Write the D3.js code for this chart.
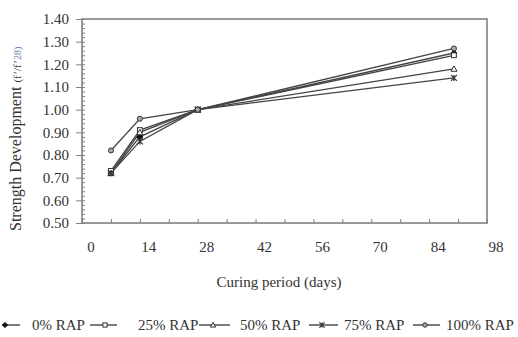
<!DOCTYPE html>
<html>
<head>
<meta charset="utf-8">
<script src="https://cdn.jsdelivr.net/npm/d3@7"></script>
<style>
  html, body { margin: 0; padding: 0; background: #fff; }
  svg text { font-family: "Liberation Serif", "Times New Roman", serif; fill: #333; }
</style>
</head>
<body>
<svg id="chart" width="518" height="337"></svg>
<script>
// Curing ages (days) and strength ratio f/f28 for each RAP content
const days = [7, 14, 28, 90];
const rap0   = [0.72, 0.88, 1.00, 1.25];
const rap25  = [0.73, 0.91, 1.00, 1.24];
const rap50  = [0.72, 0.90, 1.00, 1.18];
const rap75  = [0.72, 0.86, 1.00, 1.14];
const rap100 = [0.82, 0.96, 1.00, 1.27];
const seriesNames = ["0% RAP", "25% RAP", "50% RAP", "75% RAP", "100% RAP"];
const seriesValues = [rap0, rap25, rap50, rap75, rap100];
const markerKinds = ["diamond", "square", "triangle", "star", "circle"];
const xTickLabels = [0, 14, 28, 42, 56, 70, 84, 98];
const yTickLabels = [0.5, 0.6, 0.7, 0.8, 0.9, 1.0, 1.1, 1.2, 1.3, 1.4];

const svg = d3.select("#chart");
const plotLeft = 82, plotRight = 487, plotTop = 19, plotBottom = 223;

const x = d3.scaleLinear().domain([0, 98]).range([plotLeft, plotRight]);
const y = d3.scaleLinear().domain([0.5, 1.4]).range([plotBottom, plotTop]);

const axisColor = "#808080";
const fontSize = 15;

// plot frame
svg.append("rect")
  .attr("x", plotLeft).attr("y", plotTop)
  .attr("width", plotRight - plotLeft).attr("height", plotBottom - plotTop)
  .attr("fill", "none").attr("stroke", axisColor).attr("stroke-width", 1.6);

// y axis: outward major ticks with labels
const yAxis = svg.append("g")
  .attr("transform", `translate(${plotLeft},0)`)
  .call(d3.axisLeft(y).tickValues(yTickLabels).tickFormat(d3.format(".2f")).tickSize(6).tickPadding(7));
yAxis.select(".domain").remove();
yAxis.selectAll("line").attr("stroke", axisColor);
yAxis.selectAll("text").attr("font-size", fontSize).attr("font-family", null);

// y axis minor ticks on the inside
svg.append("g")
  .attr("transform", `translate(${plotLeft},0)`)
  .call(d3.axisRight(y).tickValues(d3.range(0.5, 1.401, 0.02)).tickFormat("").tickSize(3))
  .call(g => g.select(".domain").remove())
  .selectAll("line").attr("stroke", axisColor);

// x axis: inward ticks every 7 days
svg.append("g")
  .attr("transform", `translate(0,${plotBottom})`)
  .call(d3.axisTop(x).tickValues(d3.range(0, 99, 7)).tickFormat("").tickSize(4))
  .call(g => g.select(".domain").remove())
  .selectAll("line").attr("stroke", axisColor);

// x tick labels
svg.append("g").selectAll("text")
  .data(xTickLabels).join("text")
  .attr("x", d => x(d) + 9)
  .attr("y", 252)
  .attr("text-anchor", "middle")
  .attr("font-size", fontSize)
  .text(d => d);

// axis titles
svg.append("text")
  .attr("x", 279).attr("y", 287)
  .attr("text-anchor", "middle")
  .attr("font-size", fontSize)
  .text("Curing period (days)");

const yTitle = svg.append("text")
  .attr("transform", "translate(21,231) rotate(-90)")
  .attr("text-anchor", "start")
  .attr("font-size", 16);
yTitle.append("tspan").text("Strength  Development ");
yTitle.append("tspan").attr("font-size", 11).text("(f\u2019/f\u2019");
yTitle.append("tspan").attr("font-size", 10).style("fill", "#6a86b8").text("28)");

// markers
function drawMarker(g, kind, cx, cy, s) {
  const stroke = "#333";
  if (kind === "diamond") {
    g.append("path").attr("d", `M${cx},${cy - s}L${cx + s},${cy}L${cx},${cy + s}L${cx - s},${cy}Z`)
      .attr("fill", "#111").attr("stroke", "#111");
  } else if (kind === "square") {
    g.append("rect").attr("x", cx - s * 0.8).attr("y", cy - s * 0.8)
      .attr("width", s * 1.6).attr("height", s * 1.6)
      .attr("fill", "#fff").attr("stroke", stroke).attr("stroke-width", 1);
  } else if (kind === "triangle") {
    g.append("path").attr("d", `M${cx},${cy - s}L${cx + s},${cy + s * 0.8}L${cx - s},${cy + s * 0.8}Z`)
      .attr("fill", "#fff").attr("stroke", stroke).attr("stroke-width", 1);
  } else if (kind === "star") {
    g.append("path").attr("d",
      `M${cx - s},${cy - s}L${cx + s},${cy + s}M${cx - s},${cy + s}L${cx + s},${cy - s}M${cx},${cy - s}L${cx},${cy + s}`)
      .attr("stroke", stroke).attr("stroke-width", 1.2);
  } else {
    g.append("circle").attr("cx", cx).attr("cy", cy).attr("r", s * 0.85)
      .attr("fill", "#aaa").attr("stroke", stroke).attr("stroke-width", 1);
  }
}

const line = d3.line().x(d => x(d[0])).y(d => y(d[1]));
const plot = svg.append("g");
seriesValues.forEach((vals, i) => {
  const pts = days.map((d, j) => [d, vals[j]]);
  plot.append("path").datum(pts)
    .attr("d", line)
    .attr("fill", "none")
    .attr("stroke", "#444")
    .attr("stroke-width", 1.3);
});
seriesValues.forEach((vals, i) => {
  const g = plot.append("g");
  days.forEach((d, j) => drawMarker(g, markerKinds[i], x(d), y(vals[j]), 3));
});

// legend
const legendY = 325;
const legendItems = [
  { l0: 2,   l1: 20,  m: 5,   t: 32 },
  { l0: 90,  l1: 117, m: 105, t: 138 },
  { l0: 199, l1: 230, m: 213, t: 240 },
  { l0: 309, l1: 338, m: 322, t: 344 },
  { l0: 413, l1: 440, m: 425, t: 446 }
];
const legend = svg.append("g");
seriesNames.forEach((name, i) => {
  const it = legendItems[i];
  const g = legend.append("g");
  g.append("line").attr("x1", it.l0).attr("x2", it.l1)
    .attr("y1", legendY).attr("y2", legendY)
    .attr("stroke", "#333").attr("stroke-width", 1.3);
  drawMarker(g, markerKinds[i], it.m, legendY, 2.6);
  g.append("text").attr("x", it.t).attr("y", legendY + 5)
    .attr("font-size", fontSize).text(name);
});
</script>
</body>
</html>
